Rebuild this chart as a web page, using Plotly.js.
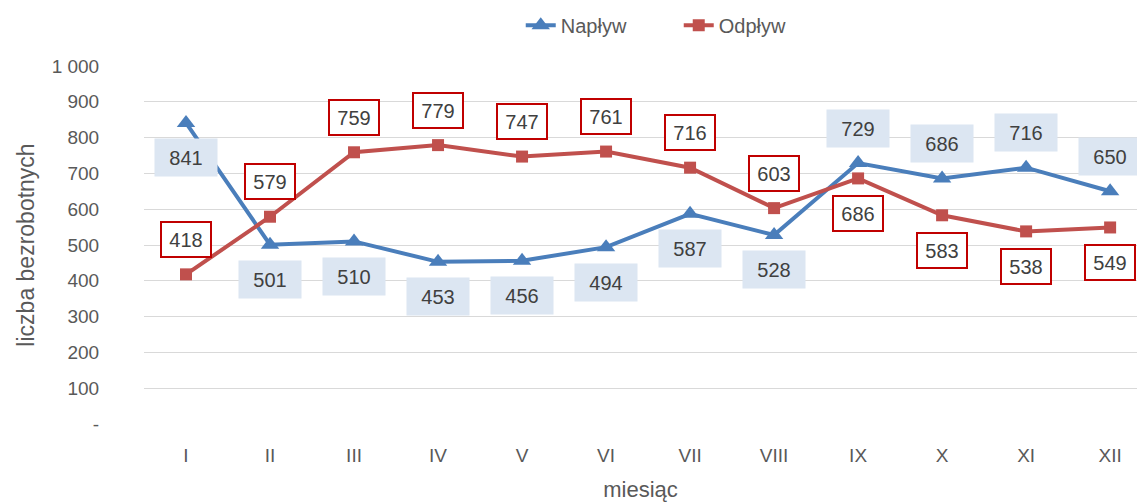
<!DOCTYPE html>
<html>
<head>
<meta charset="utf-8">
<script src="https://cdn.plot.ly/plotly-3.0.1.min.js"></script>
<style>html,body{margin:0;padding:0;background:#fff;}#chart{width:1137px;height:503px;}</style>
</head>
<body>
<div id="chart"></div>
<script>
const months = ['I','II','III','IV','V','VI','VII','VIII','IX','X','XI','XII'];
const naplyw = [841, 501, 510, 453, 456, 494, 587, 528, 729, 686, 716, 650];
const odplyw = [418, 579, 759, 779, 747, 761, 716, 603, 686, 583, 538, 549];
// label side: -1 below, +1 above
const naplywSide = [-1,-1,-1,-1,-1,-1,-1,-1,1,1,1,1];
const odplywSide = [1,1,1,1,1,1,1,1,-1,-1,-1,-1];
const yTickVals = [0,100,200,300,400,500,600,700,800,900,1000];
const yTickText = ['-','100','200','300','400','500','600','700','800','900','1 000'];

const FONT = 'Liberation Sans, Arial, sans-serif';
const blue = '#4a7ebb';
const red = '#c0504d';

const traces = [
  {x: months, y: naplyw, name: 'Napływ', type: 'scatter', mode: 'lines+markers',
   line: {color: blue, width: 4}, marker: {symbol: 'triangle-up', size: 16, color: blue}},
  {x: months, y: odplyw, name: 'Odpływ', type: 'scatter', mode: 'lines+markers',
   line: {color: red, width: 4}, marker: {symbol: 'square', size: 12, color: red}}
];

const annotations = [];
months.forEach((m, i) => {
  annotations.push({x: m, y: naplyw[i], xref: 'x', yref: 'y', text: String(naplyw[i]),
    showarrow: false, yshift: naplywSide[i] * 35, bgcolor: '#dce6f2',
    width: 60, height: 35, font: {family: FONT, size: 20, color: '#404040'}});
  annotations.push({x: m, y: odplyw[i], xref: 'x', yref: 'y', text: String(odplyw[i]),
    showarrow: false, yshift: odplywSide[i] * 35, bgcolor: '#ffffff',
    bordercolor: '#c00000', borderwidth: 2, width: 46, height: 31,
    font: {family: FONT, size: 20, color: '#404040'}});
});

const layout = {
  width: 1137, height: 503,
  margin: {l: 144, r: 0, t: 66, b: 79},
  paper_bgcolor: '#ffffff', plot_bgcolor: '#ffffff',
  font: {family: FONT, color: '#595959'},
  showlegend: true,
  legend: {orientation: 'h', xref: 'container', yref: 'container', x: 0.458, xanchor: 'left',
    y: 0.95, yanchor: 'middle', font: {family: FONT, size: 20, color: '#595959'},
    entrywidth: 113, entrywidthmode: 'pixels'},
  xaxis: {type: 'category', range: [-0.5, 11.32], showgrid: false, zeroline: false,
    showline: false, ticks: 'outside', ticklen: 14, tickcolor: 'rgba(0,0,0,0)',
    tickfont: {family: FONT, size: 19, color: '#595959'},
    title: {text: 'miesiąc', font: {family: FONT, size: 22, color: '#595959'}, standoff: 16}},
  yaxis: {range: [0, 1000], tickvals: yTickVals, ticktext: yTickText, showgrid: true,
    gridcolor: '#d9d9d9', gridwidth: 1, zeroline: false, showline: false,
    ticks: 'outside', ticklen: 40, tickcolor: 'rgba(0,0,0,0)',
    tickfont: {family: FONT, size: 19, color: '#595959'},
    title: {text: 'liczba bezrobotnych', font: {family: FONT, size: 23, color: '#595959'}, standoff: 10}},
  annotations: annotations
};

Plotly.newPlot('chart', traces, layout, {displayModeBar: false, staticPlot: true});
</script>
</body>
</html>
